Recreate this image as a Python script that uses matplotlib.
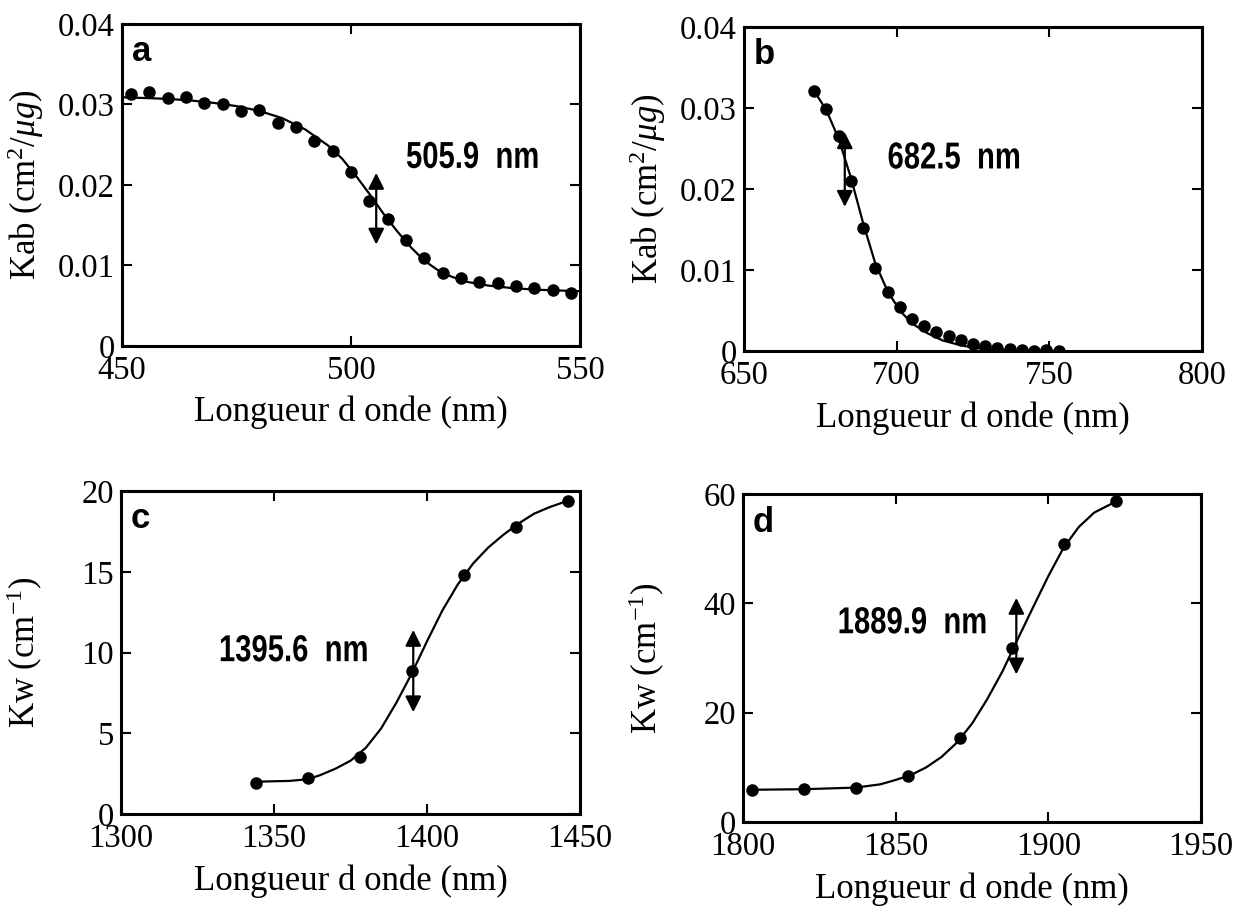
import matplotlib
matplotlib.use("Agg")
import matplotlib.pyplot as plt
from matplotlib.textpath import TextPath
from matplotlib.patches import PathPatch
from matplotlib.font_manager import FontProperties
from matplotlib.transforms import Affine2D

plt.rcParams["font.family"] = ["Liberation Serif", "DejaVu Serif"]
plt.rcParams["mathtext.fontset"] = "custom"
plt.rcParams["mathtext.rm"] = "Liberation Serif"
plt.rcParams["mathtext.it"] = "Liberation Serif:italic"

# Panel a : Kab, 450-550 nm
a_x = [452, 456, 460, 464, 468, 472, 476, 480, 484, 488, 492, 496, 500,
       504, 508, 512, 516, 520, 524, 528, 532, 536, 540, 544, 548]
a_y = [0.0313, 0.0315, 0.0308, 0.0309, 0.0302, 0.0300, 0.0292, 0.0293,
       0.0277, 0.0272, 0.0255, 0.0242, 0.0216, 0.0180, 0.0158, 0.0132,
       0.0109, 0.0091, 0.0085, 0.0079, 0.0078, 0.0075, 0.0072, 0.0070, 0.0066]
a_fit_x = [450, 455, 460, 465, 470, 475, 480, 485, 490, 495, 498, 501, 504,
           507, 510, 513, 516, 519, 522, 525, 530, 535, 540, 545, 550]
a_fit_y = [0.0309, 0.0308, 0.0307, 0.0305, 0.0302, 0.0298, 0.0292, 0.0283,
           0.0269, 0.0249, 0.0233, 0.0212, 0.0189, 0.0165, 0.0143, 0.0123,
           0.0106, 0.0094, 0.0086, 0.0080, 0.0075, 0.0072, 0.0070, 0.0069, 0.0068]

# Panel b : Kab, 650-800 nm
b_x = [673, 677, 681, 685, 689, 693, 697, 701, 705, 709, 713, 717, 721,
       725, 729, 733, 737, 741, 745, 749, 753]
b_y = [0.0321, 0.0299, 0.0265, 0.0210, 0.0152, 0.0103, 0.0073, 0.0054,
       0.0040, 0.0031, 0.0023, 0.0018, 0.0013, 0.0009, 0.0006, 0.0004,
       0.0003, 0.0001, 0.0000, 0.0001, 0.0000]
b_fit_x = [673, 677, 681, 685, 689, 693, 697, 701, 705, 710, 715, 720, 725,
           730, 740, 753]
b_fit_y = [0.0321, 0.0297, 0.0262, 0.0214, 0.0158, 0.0108, 0.0074, 0.0050,
           0.0034, 0.0022, 0.0013, 0.0008, 0.0004, 0.0002, 0.0000, 0.0000]

# Panel c : Kw, 1300-1450 nm
c_x = [1344, 1361, 1378, 1395, 1412, 1429, 1446]
c_y = [1.93, 2.26, 3.5, 8.84, 14.83, 17.76, 19.37]
c_fit_x = [1344, 1355, 1361, 1365, 1370, 1375, 1380, 1385, 1390, 1395, 1400,
           1405, 1410, 1415, 1420, 1425, 1430, 1435, 1440, 1446]
c_fit_y = [2.0, 2.05, 2.15, 2.4, 2.8, 3.3, 4.1, 5.3, 6.9, 8.7, 10.7,
           12.6, 14.2, 15.5, 16.5, 17.3, 18.0, 18.6, 19.0, 19.4]

# Panel d : Kw, 1800-1950 nm
d_x = [1803, 1820, 1837, 1854, 1871, 1888, 1905, 1922]
d_y = [5.94, 6.06, 6.25, 8.44, 15.3, 31.9, 50.9, 58.75]
d_fit_x = [1803, 1820, 1837, 1845, 1850, 1855, 1860, 1865, 1870, 1875, 1880,
           1885, 1890, 1895, 1900, 1905, 1910, 1915, 1922]
d_fit_y = [5.9, 6.0, 6.3, 6.9, 7.7, 8.6, 10.0, 11.9, 14.5, 18.0, 22.5,
           27.6, 33.5, 39.3, 45.0, 50.2, 54.0, 56.6, 58.6]

a_xticks = [450, 500, 550]
b_xticks = [650, 700, 750, 800]
c_xticks = [1300, 1350, 1400, 1450]
d_xticks = [1800, 1850, 1900, 1950]
kab_yticks = [0, 0.01, 0.02, 0.03, 0.04]
kab_ylabels = ["0", "0.01", "0.02", "0.03", "0.04"]
c_yticks = [0, 5, 10, 15, 20]
d_yticks = [0, 20, 40, 60]

kab_label = r"Kab (cm$^{2}$/$\mu g$)"
kw_label = r"Kw (cm$^{-1}$)"
xlab = "Longueur d onde (nm)"

DPI = 100
bold_sans = FontProperties(family="Liberation Sans", weight="bold")


def narrow_text(ax, x, y, txt, size=27, squeeze=0.78):
    # condensed bold label: text drawn as a path squeezed horizontally
    tp = TextPath((0, 0), txt, size=size, prop=bold_sans)
    px, py = ax.transData.transform((x, y))
    k = DPI / 72.0
    tr = Affine2D().scale(squeeze * k, k).translate(px, py - 0.36 * size * k)
    ax.add_artist(PathPatch(tp, transform=tr, color="black", lw=0,
                            clip_on=False))


def panel(rect, x, y, fx, fy, xticks, yticks, yticklabels, ylabel, letter,
          arrow, note):
    ax = fig.add_axes(rect)
    ax.plot(fx, fy, color="black", lw=1.6)
    ax.plot(x, y, "o", color="black", ms=8)
    ax.set_xlim(xticks[0], xticks[-1])
    ax.set_ylim(yticks[0], yticks[-1])
    ax.set_xticks(xticks)
    ax.set_yticks(yticks)
    ax.set_xticklabels([str(t) for t in xticks])
    ax.set_yticklabels(yticklabels)
    ax.tick_params(direction="in", top=True, right=True, length=7, width=1.5,
                   labelsize=23.5)
    ax.tick_params(axis="x", pad=7)
    ax.tick_params(axis="y", pad=5)
    for s in ax.spines.values():
        s.set_linewidth(2.2)
    ax.set_xlabel(xlab, fontsize=25)
    ax.set_ylabel(ylabel, fontsize=25)
    ax.xaxis.set_label_coords(0.5, -0.155)
    ax.yaxis.set_label_coords(-0.165, 0.5)
    ax.text(0.022, 0.965, letter, transform=ax.transAxes, ha="left", va="top",
            fontsize=25, fontweight="bold", family="Liberation Sans")
    ax0, y0, y1 = arrow
    ax.annotate("", xy=(ax0, y1), xytext=(ax0, y0),
                arrowprops=dict(arrowstyle="<|-|>", color="black", lw=1.6,
                                mutation_scale=24, shrinkA=0, shrinkB=0))
    tx, ty, txt = note
    narrow_text(ax, tx, ty, txt)
    return ax


fig = plt.figure(figsize=(12.45, 9.09), dpi=DPI)

panel([0.098, 0.6194, 0.3679, 0.3542], a_x, a_y, a_fit_x, a_fit_y,
      a_xticks, kab_yticks, kab_ylabels, kab_label, "a",
      (505.5, 0.0126, 0.0215), (512, 0.0238, "505.9  nm"))
panel([0.5976, 0.6139, 0.3679, 0.3564], b_x, b_y, b_fit_x, b_fit_y,
      b_xticks, kab_yticks, kab_ylabels, kab_label, "b",
      (683, 0.0178, 0.0270), (697, 0.0242, "682.5  nm"))
panel([0.0972, 0.1045, 0.3687, 0.3553], c_x, c_y, c_fit_x, c_fit_y,
      c_xticks, c_yticks, [str(t) for t in c_yticks], kw_label, "c",
      (1395.5, 6.3, 11.4), (1332, 10.3, "1395.6  nm"))
panel([0.5968, 0.0957, 0.3679, 0.3608], d_x, d_y, d_fit_x, d_fit_y,
      d_xticks, d_yticks, [str(t) for t in d_yticks], kw_label, "d",
      (1889.5, 27.0, 41.0), (1831, 37.0, "1889.9  nm"))

fig.savefig("out.png", dpi=DPI)
